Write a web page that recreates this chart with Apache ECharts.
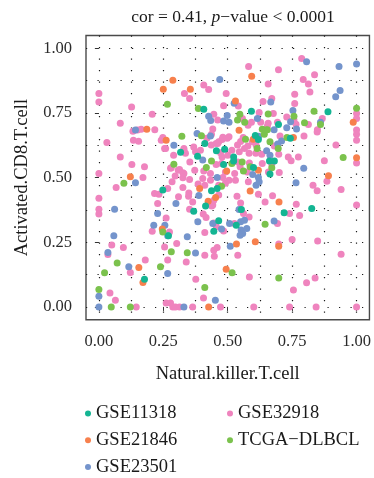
<!DOCTYPE html>
<html>
<head>
<meta charset="utf-8">
<script src="https://cdn.jsdelivr.net/npm/echarts@6/dist/echarts.min.js"></script>
<style>html,body{margin:0;padding:0;background:#fff}#c{width:374px;height:478px}</style>
</head>
<body>
<div id="c"></div>
<script>
const seriesNames = ['GSE11318', 'GSE21846', 'GSE23501', 'GSE32918', 'TCGA\u2212DLBCL'];
const tickValues = [0, 0.25, 0.5, 0.75, 1];
const gridValues = [0, 0.125, 0.25, 0.375, 0.5, 0.625, 0.75, 0.875, 1];

const gse11318 = [[0.407,0.765],[0.592,0.757],[0.889,0.755],[0.697,0.706],[0.317,0.598],[0.248,0.452],[0.368,0.37],[0.465,0.333],[0.414,0.39],[0.437,0.449],[0.459,0.458],[0.484,0.551],[0.383,0.583],[0.411,0.632],[0.456,0.604],[0.488,0.61],[0.607,0.663],[0.619,0.648],[0.743,0.652],[0.681,0.564],[0.662,0.564],[0.664,0.514],[0.523,0.58],[0.523,0.564],[0.6,0.539],[0.553,0.377],[0.719,0.364],[0.826,0.381],[0.446,0.293],[0.533,0.316],[0.177,0.107],[0.27,0.275]];
const gse21846 = [[0.287,0.877],[0.25,0.842],[0.355,0.842],[0.593,0.892],[0.53,0.797],[0.987,0.714],[0.186,0.687],[0.261,0.645],[0.122,0.503],[0.544,0.683],[0.599,0.649],[0.755,0.655],[1.0,0.577],[0.891,0.507],[0.424,0.409],[0.453,0.423],[0.391,0.458],[0.619,0.529],[0.496,0.526],[0.587,0.448],[0.699,0.406],[0.607,0.252],[0.534,0.243],[0.698,0.235],[0.494,0.146],[0.155,0.152],[0.171,0.094],[0.246,0.301],[0.426,0]];
const gse23501 = [[0.469,0.88],[0.806,0.948],[0.932,0.93],[1.0,0.94],[0.936,0.837],[0.919,0.813],[0.525,0.788],[0.667,0.793],[0.753,0.76],[0.426,0.738],[0.434,0.721],[0.484,0.719],[0.498,0.74],[0.505,0.714],[0.615,0.729],[0.744,0.716],[0.729,0.693],[0.86,0.714],[0.767,0.688],[0.68,0.685],[0.142,0.684],[0.291,0.625],[0.142,0.48],[0.061,0.378],[0.228,0.361],[0.213,0.316],[0.256,0.316],[0.299,0.40],[0.384,0.329],[0.388,0.431],[0.403,0.568],[0.433,0.661],[0.381,0.671],[0.459,0.501],[0.62,0.66],[0.709,0.642],[0.694,0.63],[0.651,0.604],[0.664,0.587],[0.795,0.536],[0.765,0.48],[0.619,0.501],[0.597,0.512],[0.61,0.471],[0.622,0.484],[0.544,0.377],[0.55,0.329],[0.68,0.332],[0.058,0.275],[0.035,0.21],[0.116,0.155],[0,0.041],[0,0],[0.267,0.275],[0.343,0.271],[0.267,0.129],[0.33,0],[0.476,0.301],[0.375,0.208],[0.452,0.026],[0.442,0.323],[0.507,0.323],[0.552,0.297],[0.558,0.284],[0.548,0.277],[0.574,0.303],[0.51,0.235],[0.565,0.335]];
const gse32918 = [[0,0.826],[0,0.793],[0.332,0.826],[0.352,0.806],[0.407,0.858],[0.426,0.841],[0.494,0.826],[0.127,0.773],[0.484,0.778],[0.207,0.745],[0.446,0.745],[0.083,0.71],[0.442,0.688],[0.15,0.684],[0.217,0.685],[0.132,0.68],[0.164,0.687],
[0.787,0.961],[0.581,0.93],[0.697,0.917],[0.837,0.898],[0.793,0.88],[0.813,0.862],[0.657,0.862],[0.819,0.831],[0.76,0.823],[0.541,0.777],[0.637,0.795],[0.671,0.806],[0.76,0.787],[0.622,0.752],[0.677,0.748],[0.729,0.735],[0.867,0.729],[1.0,0.748],[1.0,0.729],[1.0,0.684],[1.0,0.668],[1.0,0.645],[0.557,0.729],[0.579,0.703],[0.592,0.714],[0.628,0.714],[0.657,0.71],[0.654,0.70],[0.693,0.714],[0.757,0.723],[0.813,0.706],[0.848,0.685],[0.461,0.723],[0.765,0.707],[0.847,0.677],[0.796,0.661],[0.703,0.661],
[0.031,0.636],[0.134,0.645],[0.154,0.641],[0.242,0.645],[0.248,0.655],[0.255,0.613],[0.33,0.606],[0.083,0.58],[0.29,0.587],[0.128,0.551],[0.177,0.542],[0.281,0.538],[0.313,0.532],[0,0.516],[0.326,0.519],[0.296,0.506],[0.171,0.501],[0.326,0.5],[0.067,0.462],[0.233,0.436],[0.267,0.458],[0,0.42],[0.309,0.426],[0.326,0.462],
[0,0.378],[0,0.359],[0.228,0.40],[0.261,0.344],[0.349,0.441],[0.364,0.406],[0.405,0.359],[0.416,0.346],[0.446,0.325],[0.442,0.394],[0.465,0.433],[0.446,0.413],[0.465,0.471],[0.385,0.475],[0.411,0.471],[0.403,0.497],[0.433,0.49],[0.481,0.501],[0.491,0.478],[0.491,0.522],[0.476,0.555],[0.455,0.551],[0.407,0.526],[0.433,0.516],[0.375,0.6],[0.394,0.606],[0.436,0.626],[0.455,0.632],[0.472,0.596],[0.478,0.58],[0.478,0.648],[0.465,0.639],[0.437,0.668],[0.481,0.656],[0.259,0.613],[0.33,0.613],[0.336,0.594],[0.368,0.619],[0.353,0.561],[0.278,0.536],[0.308,0.529],[0.33,0.516],[0.352,0.493],[0.372,0.529],[0.284,0.484],
[0.461,0.632],[0.419,0.652],[0.498,0.652],[0.5,0.587],[0.539,0.561],[0.516,0.606],[0.584,0.557],[0.53,0.49],[0.58,0.484],[0.619,0.436],[0.536,0.428],[0.674,0.43],[0.70,0.52],[0.658,0.522],[0.671,0.552],[0.632,0.591],[0.681,0.622],[0.61,0.626],[0.578,0.622],[0.565,0.613],[0.545,0.60],[0.92,0.626],[1.0,0.557],[0.875,0.565],[0.885,0.486],[0.94,0.454],[0.831,0.471],[0.847,0.449],[0.774,0.58],[0.735,0.58],[0.746,0.565],[0.505,0.658],[0.538,0.626],[0.55,0.64],[0.56,0.655],[0.596,0.639],[0.609,0.594],[0.583,0.594],[0.548,0.542],[0.576,0.522],[0.527,0.516],[0.505,0.49],[0.634,0.555],[0.698,0.591],
[0.645,0.406],[0.766,0.397],[0.55,0.402],[0.561,0.361],[0.74,0.361],[0.779,0.354],[1.0,0.394],[0.583,0.348],[0.693,0.323],[0.348,0.428],[0.352,0.378],[0.438,0.39],[0.484,0.294],[0.411,0.288],[0.456,0.31],[0.526,0.323],[0.05,0.239],[0.035,0.203],[0.095,0.23],[0.18,0.181],[0.122,0.133],[0.043,0.054],[0.064,0.026],[0.145,0],[0.216,0.439],[0.207,0.293],[0.274,0.29],[0.302,0.245],[0.255,0.232],[0.267,0.181],[0.339,0.174],[0.261,0.015],[0.278,0.015],[0.287,0],[0.297,0],[0.313,0],[0.411,0.2],[0.448,0.196],[0.446,0.219],[0.459,0.23],[0.376,0.107],[0.406,0.034],[0.364,0],[0.472,0],[0.539,0.2],[0.698,0.243],[0.75,0.261],[0.849,0.255],[0.94,0.204],[0.584,0.116],[0.839,0.112],[0.806,0.093],[0.755,0.065],[0.601,0],[0.74,0],[0.843,0],[1.0,0]];
const tcgaDlbcl = [[0.266,0.784],[0.386,0.768],[0.547,0.745],[0.657,0.746],[0.757,0.738],[0.835,0.757],[1.0,0.769],[0.538,0.723],[0.566,0.714],[0.798,0.712],[0.86,0.706],[0.634,0.687],[0.654,0.685],[0.322,0.66],[0.291,0.552],[0.097,0.478],[0.476,0.467],[0.417,0.539],[0.437,0.564],[0.398,0.662],[0.73,0.655],[0.664,0.639],[0.642,0.668],[0.649,0.684],[0.569,0.649],[0.614,0.613],[0.516,0.555],[0.556,0.561],[0.587,0.542],[0.671,0.538],[0.696,0.613],[0.561,0.526],[0.948,0.578],[0.645,0.32],[0.071,0.17],[0.022,0.132],[0,0.067],[0.048,0],[0.122,0],[0.248,0.29],[0.281,0.213],[0.239,0.155],[0.343,0.209],[0.411,0.075],[0.517,0.132],[0.698,0.112]];

const colors = {
  'GSE11318': '#14B593',
  'GSE21846': '#F7804D',
  'GSE23501': '#7494CC',
  'GSE32918': '#EF84BE',
  'TCGA\u2212DLBCL': '#7BC24D'
};
const dataByName = {
  'GSE11318': gse11318,
  'GSE21846': gse21846,
  'GSE23501': gse23501,
  'GSE32918': gse32918,
  'TCGA\u2212DLBCL': tcgaDlbcl
};
const drawOrder = ['GSE32918', 'GSE23501', 'GSE21846', 'TCGA\u2212DLBCL', 'GSE11318'];

const FONT = '"Liberation Serif", "Times New Roman", serif';
const dotted = { color: '#1a1a1a', width: 1.2, type: [1.2, 10.3] };
const legendText = { fontFamily: FONT, fontSize: 18.5, color: '#1a1a1a', lineHeight: 18 };

const chart = echarts.init(document.getElementById('c'), null, { renderer: 'canvas' });
chart.setOption({
  animation: false,
  backgroundColor: '#fff',
  title: {
    text: '{a|cor = 0.41, }{b|p}{a|\u2212value < 0.0001}',
    left: 228, top: 3, textAlign: 'center',
    textStyle: {
      fontWeight: 'normal',
      rich: {
        a: { fontFamily: FONT, fontSize: 17.5, fontWeight: 'normal', color: '#1a1a1a' },
        b: { fontFamily: FONT, fontSize: 17.5, fontWeight: 'normal', fontStyle: 'italic', color: '#1a1a1a' }
      }
    }
  },
  legend: [
    {
      data: seriesNames.slice(0, 3), orient: 'vertical', left: 85, top: 404, padding: 0,
      icon: 'circle', itemWidth: 6, itemHeight: 6, itemGap: 7.7,
      textStyle: legendText
    },
    {
      data: seriesNames.slice(3), orient: 'vertical', left: 227, top: 404, padding: 0,
      icon: 'circle', itemWidth: 6, itemHeight: 6, itemGap: 7.7,
      textStyle: legendText
    }
  ],
  grid: {
    left: 86, top: 35.5, width: 284, height: 284.3,
    show: true, borderColor: '#4a4a4a', borderWidth: 1.4, backgroundColor: 'transparent'
  },
  xAxis: [
    {
      type: 'value', min: -0.05, max: 1.05, position: 'bottom',
      name: 'Natural.killer.T.cell', nameLocation: 'middle', nameGap: 45,
      nameTextStyle: { fontFamily: FONT, fontSize: 18.5, color: '#1a1a1a' },
      axisLine: { show: false },
      axisTick: { show: true, inside: false, length: 4, customValues: tickValues, lineStyle: { color: '#333', width: 1 } },
      axisLabel: { customValues: tickValues, margin: 13, fontFamily: FONT, fontSize: 16.5, color: '#2b2b2b',
        formatter: v => v.toFixed(2) },
      splitLine: { show: false }
    },
    {
      type: 'value', min: -0.05, max: 1.05, position: 'top',
      axisLine: { show: false },
      axisTick: { show: false, customValues: gridValues },
      axisLabel: { show: false, customValues: gridValues },
      splitLine: { show: true, lineStyle: dotted }
    }
  ],
  yAxis: [
    {
      type: 'value', min: -0.05, max: 1.05, position: 'left',
      name: 'Activated.CD8.T.cell', nameLocation: 'middle', nameGap: 54,
      nameTextStyle: { fontFamily: FONT, fontSize: 18.5, color: '#1a1a1a' },
      axisLine: { show: false },
      axisTick: { show: true, inside: false, length: 4, customValues: tickValues, lineStyle: { color: '#333', width: 1 } },
      axisLabel: { customValues: tickValues, margin: 14, fontFamily: FONT, fontSize: 16.5, color: '#2b2b2b',
        formatter: v => v.toFixed(2) },
      splitLine: { show: false }
    },
    {
      type: 'value', min: -0.05, max: 1.05, position: 'right',
      axisLine: { show: false },
      axisTick: { show: false, customValues: gridValues },
      axisLabel: { show: false, customValues: gridValues },
      splitLine: { show: true, lineStyle: dotted }
    }
  ],
  series: drawOrder.map(name => ({
    name: name,
    type: 'scatter',
    xAxisIndex: 0, yAxisIndex: 0,
    symbol: 'circle',
    symbolSize: 7,
    data: dataByName[name],
    itemStyle: { color: colors[name], opacity: 1 },
    emphasis: { disabled: true }
  }))
});
</script>
</body>
</html>
